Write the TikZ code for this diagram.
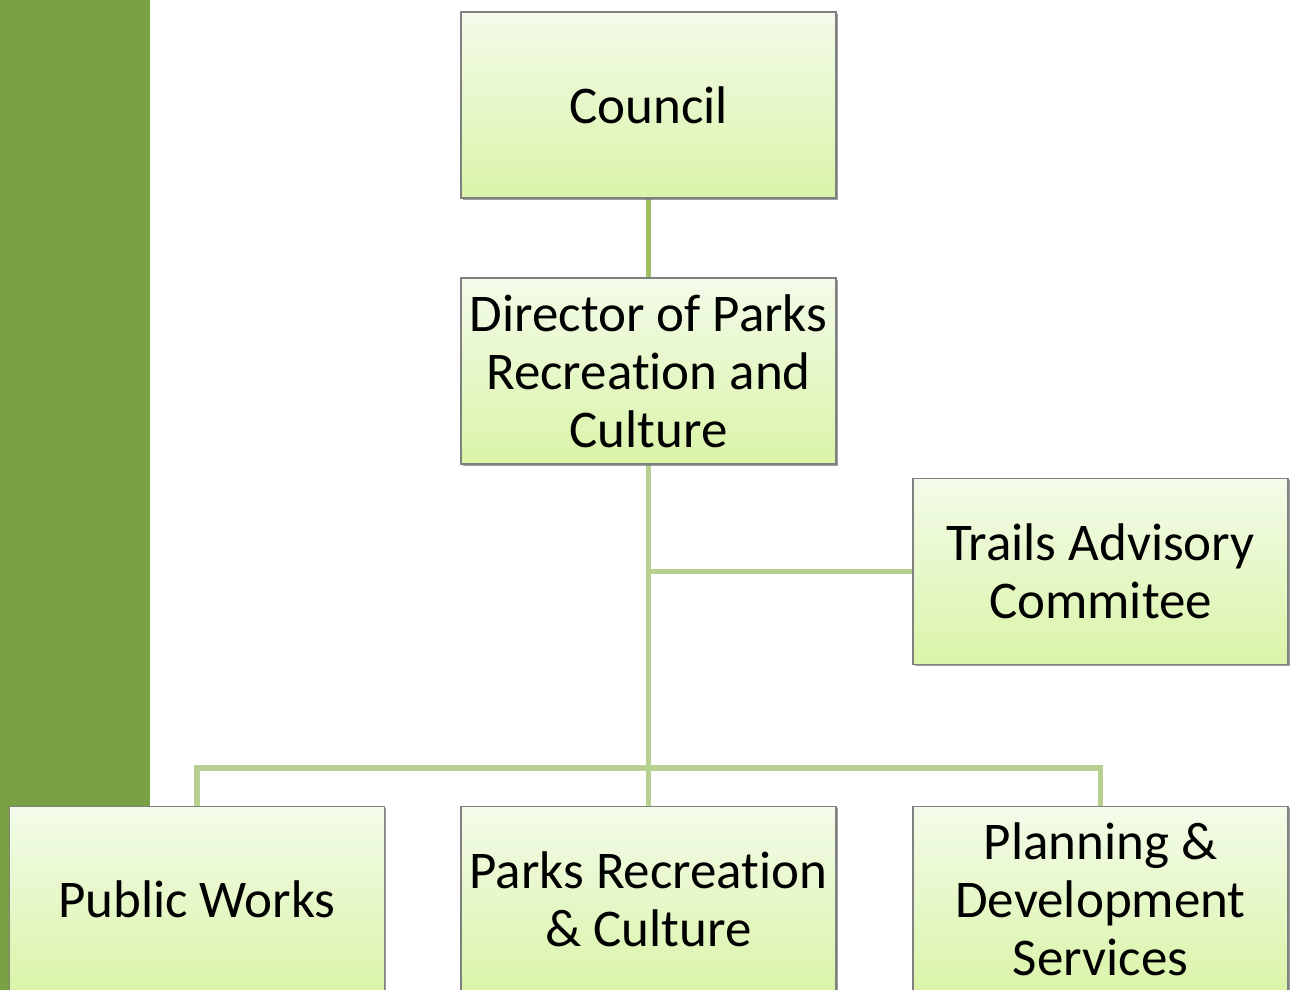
\documentclass[tikz,border=0pt]{standalone}
\usepackage{fontspec}
\setmainfont[Ligatures=NoCommon]{Carlito}
\usepackage{xcolor}
\usetikzlibrary{positioning,backgrounds,shadows}
\definecolor{barGreen}{RGB}{121,161,67}
\definecolor{linkGreen}{RGB}{184,208,143}
\definecolor{topLink}{RGB}{160,192,96}
\definecolor{boxTop}{RGB}{243,251,233}
\definecolor{boxBottom}{RGB}{218,244,168}
\definecolor{boxEdge}{RGB}{128,128,128}
\tikzset{
  orgbox/.style={draw=boxEdge, line width=1.2bp, top color=boxTop, bottom color=boxBottom,
    minimum width=375bp, minimum height=186bp, align=center, inner sep=0pt,
    font=\fontsize{53bp}{58bp}\selectfont, text=black,
    drop shadow={shadow xshift=1.5bp, shadow yshift=-1.5bp, fill=black!55, opacity=0.7}},
  link/.style={line width=5.5bp, draw=linkGreen},
}
\begin{document}
\begin{tikzpicture}[x=1bp, y=-1bp]
            \useasboundingbox (0,0) rectangle (1293,990);
            \clip (0,0) rectangle (1293,990);
            \node[orgbox] (council) at (648.5,105) {Council};
            \node[orgbox] (director) at (648.5,371) {Director of Parks\\Recreation and\\Culture};
            \node[orgbox] (trails) at (1100.5,571.5) {Trails Advisory\\Commitee};
            \node[orgbox] (public) at (197,899.5) {Public Works};
            \node[orgbox] (parks) at (648.5,899.5) {Parks Recreation\\\& Culture};
            \node[orgbox] (planning) at (1100.5,899.5) {Planning \&\\Development\\Services};
            \coordinate (bus) at (648.5,768);
            \begin{scope}[on background layer]
            \fill[barGreen] (0,0) rectangle (150,990);
            \draw[link, draw=topLink] (council) -- (director);
            \draw[link] (director) -- (parks);
            \draw[link] (trails.west) -- (trails.west -| director);
            \draw[link] (public.north) |- (bus) -| (planning.north);
            \end{scope}
        \end{tikzpicture}
\end{document}
